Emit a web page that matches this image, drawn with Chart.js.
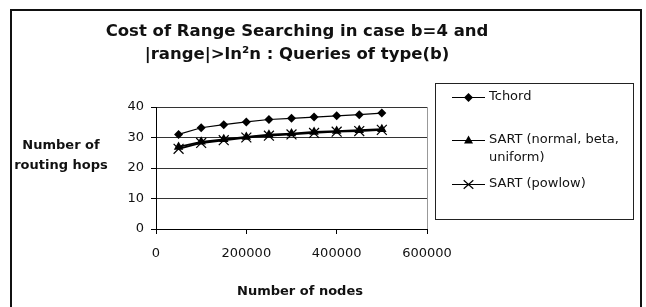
<!DOCTYPE html>
<html>
<head>
<meta charset="utf-8">
<script src="https://cdn.jsdelivr.net/npm/chart.js@4/dist/chart.umd.min.js"></script>
<style>
html,body{margin:0;padding:0;background:#fff;}
canvas{display:block;}
</style>
</head>
<body>
<canvas id="c" width="646" height="307"></canvas>
<script>
// ---- data ----
const nodes = [50000, 100000, 150000, 200000, 250000, 300000, 350000, 400000, 450000, 500000];
const tchord = [31.0, 33.2, 34.2, 35.1, 35.9, 36.3, 36.7, 37.1, 37.5, 38.0];
const sartNormal = [26.9, 28.6, 29.4, 30.2, 30.9, 31.3, 31.8, 32.1, 32.4, 32.7];
const sartPowlow = [26.3, 28.2, 29.1, 30.0, 30.6, 31.0, 31.5, 31.9, 32.1, 32.5];
const seriesNames = ["Tchord", "SART (normal, beta, uniform)", "SART (powlow)"];
const legendLines = [["Tchord"], ["SART (normal, beta,", "uniform)"], ["SART (powlow)"]];
const yTicks = [0, 10, 20, 30, 40];
const xTicks = [0, 200000, 400000, 600000];
const titleLines = ["Cost of Range Searching in case b=4 and", "|range|>ln\u00B2n : Queries of type(b)"];
const yTitleLines = ["Number of", "routing hops"];
const xTitle = "Number of nodes";

const FONT = "'DejaVu Sans', sans-serif";
const pts = arr => nodes.map((x, i) => ({x: x, y: arr[i]}));

function drawMarker(ctx, kind, x, y) {
  ctx.save();
  ctx.fillStyle = '#000';
  ctx.strokeStyle = '#000';
  ctx.beginPath();
  if (kind === 'diamond') {
    const r = 4.5;
    ctx.moveTo(x, y - r); ctx.lineTo(x + r, y); ctx.lineTo(x, y + r); ctx.lineTo(x - r, y); ctx.closePath(); ctx.fill();
  } else if (kind === 'triangle') {
    const r = 5;
    ctx.moveTo(x, y - r); ctx.lineTo(x + r * 0.9, y + r * 0.6); ctx.lineTo(x - r * 0.9, y + r * 0.6); ctx.closePath(); ctx.fill();
  } else {
    const r = 6;
    ctx.lineWidth = 1.2;
    ctx.moveTo(x - r * 0.8, y - r * 0.7); ctx.lineTo(x + r * 0.8, y + r * 0.7);
    ctx.moveTo(x + r * 0.8, y - r * 0.7); ctx.lineTo(x - r * 0.8, y + r * 0.7);
    ctx.stroke();
  }
  ctx.restore();
}

const decor = {
  id: 'decor',
  beforeDraw(chart) {
    const ctx = chart.ctx;
    ctx.save();
    ctx.fillStyle = '#fff';
    ctx.fillRect(0, 0, chart.width, chart.height);
    ctx.restore();
  },
  afterDraw(chart) {
    const ctx = chart.ctx;
    ctx.save();
    // outer frame
    ctx.strokeStyle = '#111';
    ctx.lineWidth = 2;
    ctx.strokeRect(11, 10, 630, 310);
    // title
    ctx.fillStyle = '#111';
    ctx.textAlign = 'center';
    ctx.textBaseline = 'alphabetic';
    ctx.font = "bold 16.5px " + FONT;
    ctx.fillText(titleLines[0], 297, 36);
    ctx.fillText(titleLines[1], 297, 59);
    // y title
    ctx.font = "bold 13px " + FONT;
    ctx.textBaseline = 'middle';
    ctx.fillText(yTitleLines[0], 61, 146);
    ctx.fillText(yTitleLines[1], 61, 166);
    // x title
    ctx.fillText(xTitle, 300, 292);
    // legend box
    ctx.lineWidth = 1;
    ctx.strokeStyle = '#222';
    ctx.strokeRect(435.5, 83.5, 198, 136);
    const kinds = ['diamond', 'triangle', 'cross'];
    const ys = [97, 140, 184];
    ctx.font = "13px " + FONT;
    ctx.textAlign = 'left';
    for (let i = 0; i < 3; i++) {
      const y = ys[i];
      ctx.beginPath();
      ctx.strokeStyle = '#000';
      ctx.lineWidth = 1;
      ctx.moveTo(452, y + 0.5); ctx.lineTo(485, y + 0.5); ctx.stroke();
      drawMarker(ctx, kinds[i], 468.5, y + 0.5);
      ctx.fillStyle = '#111';
      legendLines[i].forEach((t, j) => ctx.fillText(t, 489, y + j * 18));
    }
    ctx.restore();
  }
};

new Chart(document.getElementById('c'), {
  type: 'scatter',
  data: {
    datasets: [
      {label: seriesNames[0], data: pts(tchord), showLine: true, borderColor: '#000', backgroundColor: '#000',
       borderWidth: 1.2, pointStyle: 'rectRot', pointRadius: 4.5, pointBorderWidth: 0},
      {label: seriesNames[1], data: pts(sartNormal), showLine: true, borderColor: '#000', backgroundColor: '#000',
       borderWidth: 1.8, pointStyle: 'triangle', pointRadius: 5.5, pointBorderWidth: 0},
      {label: seriesNames[2], data: pts(sartPowlow), showLine: true, borderColor: '#000', backgroundColor: '#000',
       borderWidth: 1.8, pointStyle: 'crossRot', pointRadius: 7, pointBorderWidth: 1.2}
    ]
  },
  options: {
    responsive: false,
    animation: false,
    devicePixelRatio: 1,
    layout: {padding: {left: 0, right: 219, top: 107, bottom: 0}},
    plugins: {legend: {display: false}, title: {display: false}, tooltip: {enabled: false}},
    scales: {
      x: {
        type: 'linear', min: 0, max: 600000,
        afterBuildTicks: s => { s.ticks = xTicks.map(v => ({value: v})); },
        afterFit: s => { s.height = 78; },
        ticks: {color: '#111', font: {family: FONT, size: 13}, padding: 12, maxRotation: 0,
                callback: v => String(v)},
        grid: {color: c => (c.tick && c.tick.value === 600000) ? '#999' : 'rgba(0,0,0,0)',
               tickColor: '#000', tickLength: 5, lineWidth: 1},
        border: {display: true, color: '#000', width: 1}
      },
      y: {
        min: 0, max: 40,
        afterBuildTicks: s => { s.ticks = yTicks.map(v => ({value: v})); },
        afterFit: s => { s.width = 156; },
        ticks: {color: '#111', font: {family: FONT, size: 13}, padding: 7},
        grid: {color: '#333', tickColor: '#000', tickLength: 5, lineWidth: 1},
        border: {display: true, color: '#000', width: 1}
      }
    }
  },
  plugins: [decor]
});
</script>
</body>
</html>
